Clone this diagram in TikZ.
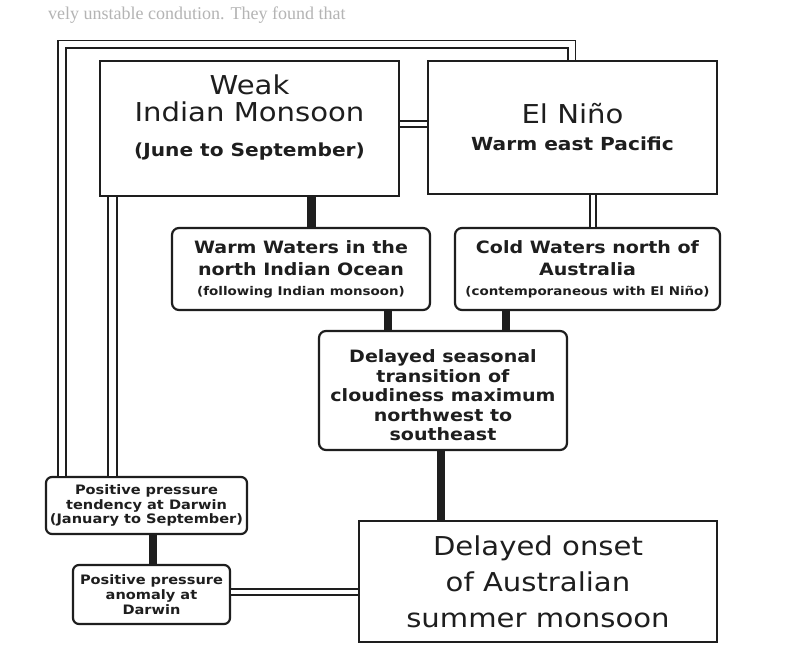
\documentclass[tikz,border=0pt]{standalone}
\usepackage{fontspec}
\setmainfont[FakeStretch=1.12]{DejaVu Sans}
\newfontfamily\ghostfont{Liberation Serif}
\definecolor{ink}{HTML}{1E1E1E}
\definecolor{ghostgray}{HTML}{B4B4B4}
\tikzset{
  box/.style={draw=ink, line width=2.2pt, inner sep=0pt, align=center, text=ink},
  rbox/.style={box, rounded corners=7pt},
  conn/.style={draw=ink, line width=8.5pt},
  dbl/.style={draw=ink, line width=1.8pt, double=white, double distance=4.5pt},
  loopline/.style={dbl, double distance=6pt},
  ghost/.style={text=ghostgray, inner sep=0pt, anchor=west}
}
\begin{document}
\begin{tikzpicture}[x=1pt,y=-1pt]
\useasboundingbox[fill=white] (0,0) rectangle (804,647);

% faint show-through text of the scanned page
\node[ghost, font=\ghostfont\fontsize{18}{20}\selectfont] (g1) at (48,15) {vely unstable condution. They found that};

% boxes
\node[box, minimum width=299pt, minimum height=135pt, text depth=25pt,
      font=\fontsize{26}{27}\selectfont] (weak) at (249.5,128.5)
  {Weak\\Indian Monsoon\\[8pt]{\fontsize{18}{20}\selectfont\bfseries (June to September)}};
\node[box, minimum width=289pt, minimum height=133pt,
      font=\fontsize{26}{27}\selectfont] (elnino) at (572.5,127.5)
  {El Niño\\{\fontsize{18}{20}\selectfont\bfseries Warm east Pacific}};
\node[rbox, minimum width=258pt, minimum height=82pt,
      font=\fontsize{17}{22}\selectfont\bfseries] (warm) at (301,269)
  {Warm Waters in the\\north Indian Ocean\\[-2pt]{\fontsize{12}{14}\selectfont (following Indian monsoon)}};
\node[rbox, minimum width=265pt, minimum height=82pt,
      font=\fontsize{17}{22}\selectfont\bfseries] (cold) at (587.5,269)
  {Cold Waters north of\\Australia\\[-2pt]{\fontsize{12}{14}\selectfont (contemporaneous with El Niño)}};
\node[rbox, minimum width=248pt, minimum height=119pt, text height=101pt,
      font=\fontsize{17}{19.5}\selectfont\bfseries] (seas) at (443,390.5)
  {Delayed seasonal\\transition of\\cloudiness maximum\\northwest to\\southeast};
\node[rbox, rounded corners=6pt, minimum width=201pt, minimum height=57pt,
      font=\fontsize{13}{14.5}\selectfont\bfseries] (tend) at (146.5,505.5)
  {Positive pressure\\tendency at Darwin\\(January to September)};
\node[rbox, rounded corners=6pt, minimum width=157pt, minimum height=59pt,
      font=\fontsize{13}{15}\selectfont\bfseries] (anom) at (151.5,594.5)
  {Positive pressure\\anomaly at\\Darwin};
\node[box, minimum width=358pt, minimum height=121pt,
      font=\fontsize{26}{36}\selectfont] (onset) at (538,581.5)
  {Delayed onset\\of Australian\\summer monsoon};

% reference coordinates for connector positions
\coordinate (xa) at (311.5,0);
\coordinate (xb) at (388,0);
\coordinate (xc) at (506,0);
\coordinate (xd) at (441,0);
\coordinate (xe) at (153,0);
\coordinate (xf) at (593,0);
\coordinate (xg) at (571.5,0);
\coordinate (xh) at (62,0);
\coordinate (xi) at (112.5,0);
\coordinate (ya) at (0,124);
\coordinate (yb) at (0,592);
\coordinate (yc) at (0,44.5);

% solid connectors
\draw[conn] (weak.south -| xa) -- (warm.north -| xa);
\draw[conn] (warm.south -| xb) -- (seas.north -| xb);
\draw[conn] (cold.south -| xc) -- (seas.north -| xc);
\draw[conn] (seas.south -| xd) -- (onset.north -| xd);
\draw[conn] (tend.south -| xe) -- (anom.north -| xe);

% double-line connectors
\draw[dbl] (weak.east |- ya) -- (elnino.west |- ya);
\draw[dbl] (elnino.south -| xf) -- (cold.north -| xf);
\draw[dbl] (anom.east |- yb) -- (onset.west |- yb);
\draw[loopline] (elnino.north -| xg) -- (xg |- yc) -- (xh |- yc) -- (tend.north -| xh);
\draw[loopline, double distance=7pt] (weak.south -| xi) -- (tend.north -| xi);
\end{tikzpicture}
\end{document}
